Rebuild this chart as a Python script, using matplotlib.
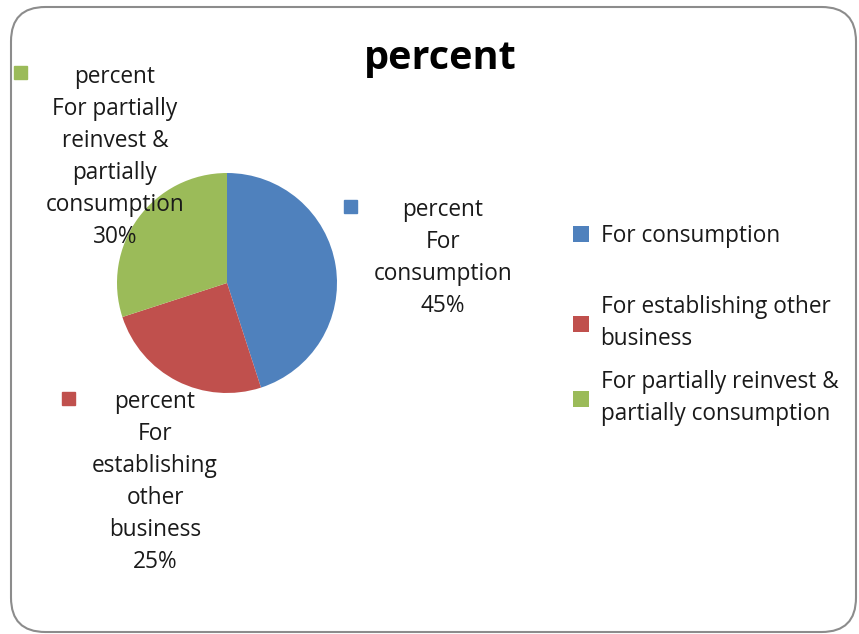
import matplotlib
matplotlib.use("Agg")
import matplotlib.pyplot as plt
from matplotlib.patches import FancyBboxPatch, Rectangle

# data
categories = ["For consumption", "For establishing other business",
              "For partially reinvest & partially consumption"]
percents = [45, 25, 30]
series_name = "percent"
label_lines = [["For", "consumption"],
               ["For", "establishing", "other", "business"],
               ["For partially", "reinvest &", "partially", "consumption"]]
legend_labels = ["For consumption", "For establishing other\nbusiness",
                 "For partially reinvest &\npartially consumption"]
colors = ["#4F81BD", "#C0504D", "#9BBB59"]

W, H = 859, 634
plt.rcParams['font.family'] = ['Open Sans', 'DejaVu Sans']
fig = plt.figure(figsize=(W / 100, H / 100), dpi=100)

def fx(px):
    return px / W

def fy(py):
    return 1 - py / H

# border
border = FancyBboxPatch((fx(11), fy(632)), fx(845), (625) / H,
                        boxstyle="round,pad=0,rounding_size=0.04",
                        transform=fig.transFigure, facecolor="none",
                        edgecolor="#8c8c8c", linewidth=1.5, zorder=-1,
                        mutation_aspect=W / H)
fig.patches.append(border)

# pie
cx, cy, r = 227, 283, 110
ax = fig.add_axes([fx(cx - r), fy(cy + r), 2 * r / W, 2 * r / H])
wedges, _ = ax.pie(percents, colors=colors, startangle=90, counterclock=False,
                   wedgeprops=dict(linewidth=0))
ax.set_aspect('equal')
ax.set_xlim(-1, 1)
ax.set_ylim(-1, 1)

fs = 16.3
ls = 1.44
# data labels (text center x, top y, key x, key y) in pixels
label_pos = [(443, 198, 350, 206), (155, 390, 68, 398), (115, 65, 20, 72)]
for i, (tx, ty, kx, ky) in enumerate(label_pos):
    txt = "\n".join([series_name] + label_lines[i] + [f"{percents[i]}%"])
    fig.text(fx(tx), fy(ty), txt, ha="center", va="top", fontsize=fs,
             color="#1a1a1a", linespacing=ls)
    fig.patches.append(Rectangle((fx(kx - 6.5), fy(ky + 6.5)), 13 / W, 13 / H,
                                 transform=fig.transFigure, color=colors[i]))

# title
fig.text(fx(440), fy(59), series_name, ha="center", va="center",
         fontsize=28.5, fontweight="bold", color="black")

# legend: one entry per legend so that each row sits where the reference has it
legend_y = [236, 323, 398]
for i in range(len(categories)):
    leg = fig.legend([wedges[i]], [legend_labels[i]], loc="center left",
                     bbox_to_anchor=(fx(573), fy(legend_y[i])), frameon=False,
                     fontsize=fs, handlelength=0.72, handleheight=0.72,
                     handletextpad=0.5, borderpad=0, borderaxespad=0)
    for t in leg.get_texts():
        t.set_linespacing(ls)
        t.set_color("#1a1a1a")

fig.savefig("out.png", dpi=100)
